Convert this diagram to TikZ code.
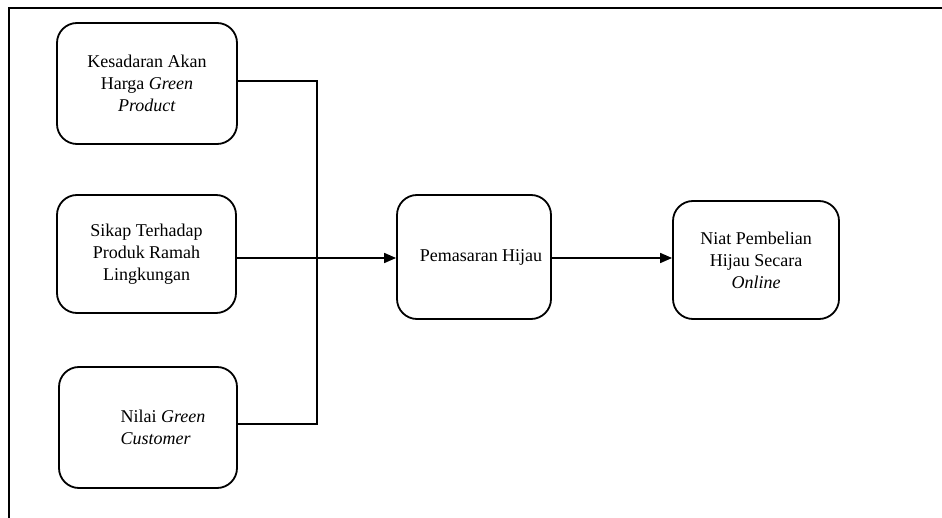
\documentclass[tikz,border=0pt]{standalone}
\usepackage{fontspec}
\setmainfont{Liberation Serif}
\usetikzlibrary{arrows.meta}
\begin{document}
\begin{tikzpicture}[x=1pt,y=-1pt,
  box/.style={draw, line width=1.8pt, rounded corners=20pt, align=center, inner sep=0pt,
    font=\fontsize{18}{22}\selectfont},
  link/.style={line width=1.6pt},
  arr/.style={link, -{Triangle[length=12pt,width=10pt]}}]
\useasboundingbox (0,0) rectangle (942,518);
\draw[line width=2.8pt] (9,520) -- (9,8) -- (944,8);
\node[box, minimum width=180pt, minimum height=121pt] (b1) at (147,83.5)
  {Kesadaran Akan\\Harga \textit{Green}\\\textit{Product}};
\node[box, minimum width=179pt, minimum height=118pt] (b2) at (146.5,254)
  {Sikap Terhadap\\Produk Ramah\\Lingkungan};
\node[box, minimum width=178pt, minimum height=121pt, align=left] (b3) at (148,427.5)
  {\hspace*{30pt}Nilai \textit{Green}\\\hspace*{30pt}\textit{Customer}};
\node[box, minimum width=154pt, minimum height=124pt] (pm) at (474,257)
  {\hspace*{14pt}Pemasaran Hijau};
\node[box, minimum width=166pt, minimum height=118pt] (ni) at (756,260)
  {Niat Pembelian\\Hijau Secara\\\textit{Online}};
\coordinate (jt) at (317,81);
\coordinate (jb) at (317,424);
\draw[link] ([yshift=2.5pt]b1.east) -- (jt) -- (jb) -- ([yshift=3.5pt]b3.east);
\draw[arr] ([yshift=-4pt]b2.east) -- ([yshift=-1pt]pm.west);
\draw[arr] ([yshift=-1pt]pm.east) -- ([yshift=2pt]ni.west);
\end{tikzpicture}
\end{document}
